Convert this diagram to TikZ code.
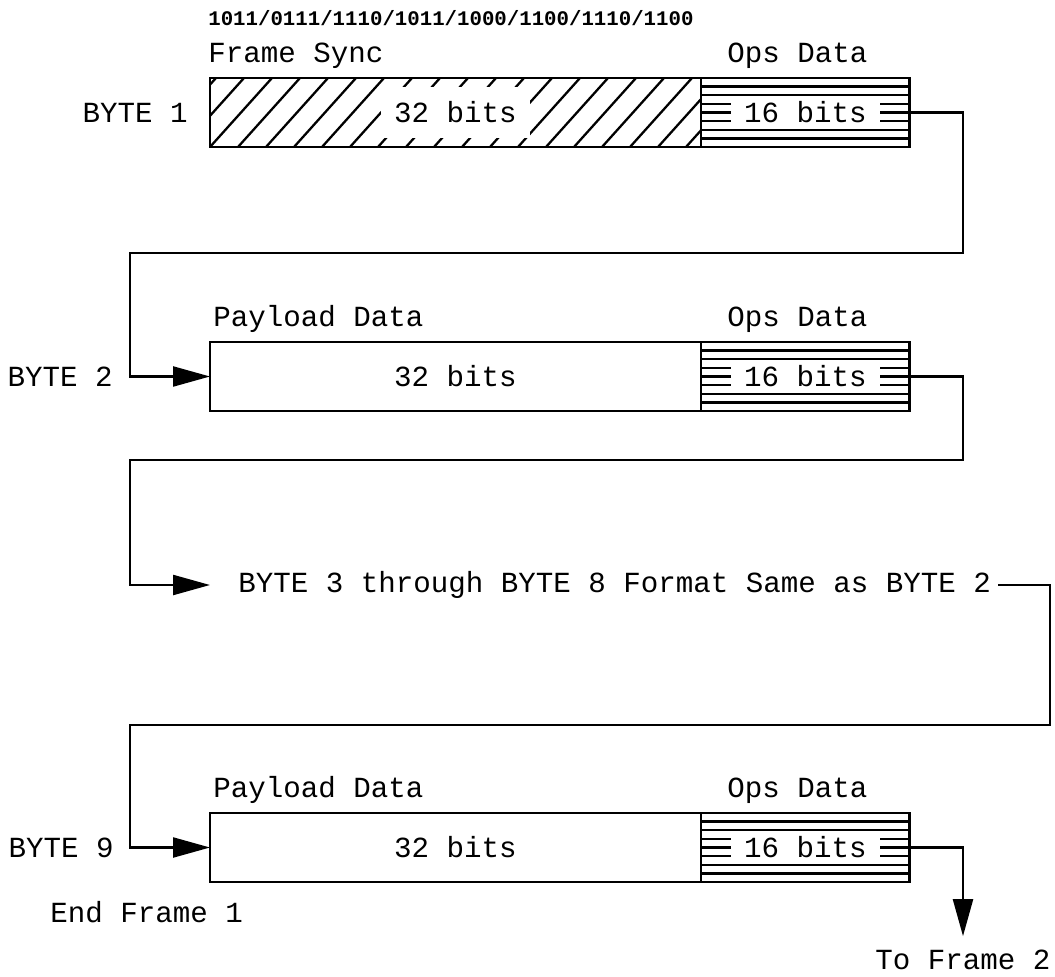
\documentclass[tikz,border=0pt]{standalone}
\usepackage{fontspec}
\newfontfamily\plotfont{Liberation Mono}
\usetikzlibrary{positioning,calc,arrows.meta}

\tikzset{
  txt/.style={font=\plotfont\fontsize{16.6}{20}\selectfont, inner sep=0pt},
  bits/.style={txt, fill=white, inner xsep=0.26cm, inner ysep=0.1cm},
  field/.style={draw, line width=1.6pt, minimum height=1.38cm, inner sep=0pt, outer sep=0pt},
  hatch/.style={line width=1.3pt},
  wire/.style={line width=1.3pt},
  feed/.style={wire, -{Triangle[length=0.74cm,width=0.4cm]}}
}

\begin{document}
\begin{tikzpicture}[x=0.02cm, y=-0.02cm]
\useasboundingbox (0,0) rectangle (1055,977);
%% sync word pattern
\node[font=\plotfont\bfseries\fontsize{11.8}{14}\selectfont, anchor=base west, inner sep=0pt] (pattern) at (208,26) {1011/0111/1110/1011/1000/1100/1110/1100};

%% BYTE 1: frame sync + ops data
\node[field, minimum width=9.82cm, anchor=north west] (sync) at (210,78) {};
\node[field, minimum width=4.18cm, anchor=west] (ops1) at (sync.east) {};
\begin{scope}
  \clip (sync.south west) rectangle (sync.north east);
  \foreach \k in {-3,...,18}
    \draw[hatch] ($(sync.south west)+(\k*28,0)$) -- ++(62,-69);
\end{scope}
\foreach \k in {1,...,7}
  \draw[hatch] ($(ops1.north west)+(0,\k*8.625)$) -- ($(ops1.north east)+(0,\k*8.625)$);
\node[bits, inner ysep=0.3cm] (sbits) at (sync.center) {32 bits};
\node[bits] (obits1) at (ops1.center) {16 bits};
\node[txt, anchor=base west] (synclbl) at ($(sync.north west)+(-2,-16)$) {Frame Sync};
\node[txt, anchor=base] (opslbl1) at ($(ops1.north)+(-8,-16)$) {Ops Data};
\node[txt, anchor=east] (byte1) at ($(sync.west)+(-22,0)$) {BYTE 1};

%% BYTE 2: payload + ops data
\node[field, minimum width=9.82cm, anchor=north west] (pay2) at (210,342) {};
\node[field, minimum width=4.18cm, anchor=west] (ops2) at (pay2.east) {};
\foreach \k in {1,...,7}
  \draw[hatch] ($(ops2.north west)+(0,\k*8.625)$) -- ($(ops2.north east)+(0,\k*8.625)$);
\node[txt] (pbits2) at (pay2.center) {32 bits};
\node[bits] (obits2) at (ops2.center) {16 bits};
\node[txt, anchor=base west] (paylbl2) at ($(pay2.north west)+(3,-16)$) {Payload Data};
\node[txt, anchor=base] (opslbl2) at ($(ops2.north)+(-8,-16)$) {Ops Data};
\node[txt, anchor=east] (byte2) at ($(pay2.west)+(-97,0)$) {BYTE 2};

%% BYTE 3 .. BYTE 8
\node[txt, anchor=west] (same) at (238,585) {BYTE 3 through BYTE 8 Format Same as BYTE 2};

%% BYTE 9: payload + ops data
\node[field, minimum width=9.82cm, anchor=north west] (pay9) at (210,813) {};
\node[field, minimum width=4.18cm, anchor=west] (ops9) at (pay9.east) {};
\foreach \k in {1,...,7}
  \draw[hatch] ($(ops9.north west)+(0,\k*8.625)$) -- ($(ops9.north east)+(0,\k*8.625)$);
\node[txt] (pbits9) at (pay9.center) {32 bits};
\node[bits] (obits9) at (ops9.center) {16 bits};
\node[txt, anchor=base west] (paylbl9) at ($(pay9.north west)+(3,-16)$) {Payload Data};
\node[txt, anchor=base] (opslbl9) at ($(ops9.north)+(-8,-16)$) {Ops Data};
\node[txt, anchor=east] (byte9) at ($(pay9.west)+(-96,0)$) {BYTE 9};
\node[txt, anchor=base west] (endfr) at (50,922) {End Frame 1};
\node[txt, anchor=base] (tofr) at (963,969) {To Frame 2};

%% flow between bytes
\coordinate (loop1) at (963,253);
\coordinate (loop2) at (963,460);
\coordinate (loop3) at (1050,725);
\draw[feed] (ops1.east) -| (loop1) -| ($(pay2.west)+(-80,0)$) -- (pay2.west);
\draw[feed] (ops2.east) -| (loop2) -| ($(same.west)+(-108,0)$) -- ($(same.west)+(-28,0)$);
\draw[feed] ($(same.east)+(7,0)$) -| (loop3) -| ($(pay9.west)+(-80,0)$) -- (pay9.west);
\draw[feed] (ops9.east) -| ($(tofr.north)+(0,-13)$);
\end{tikzpicture}
\end{document}
